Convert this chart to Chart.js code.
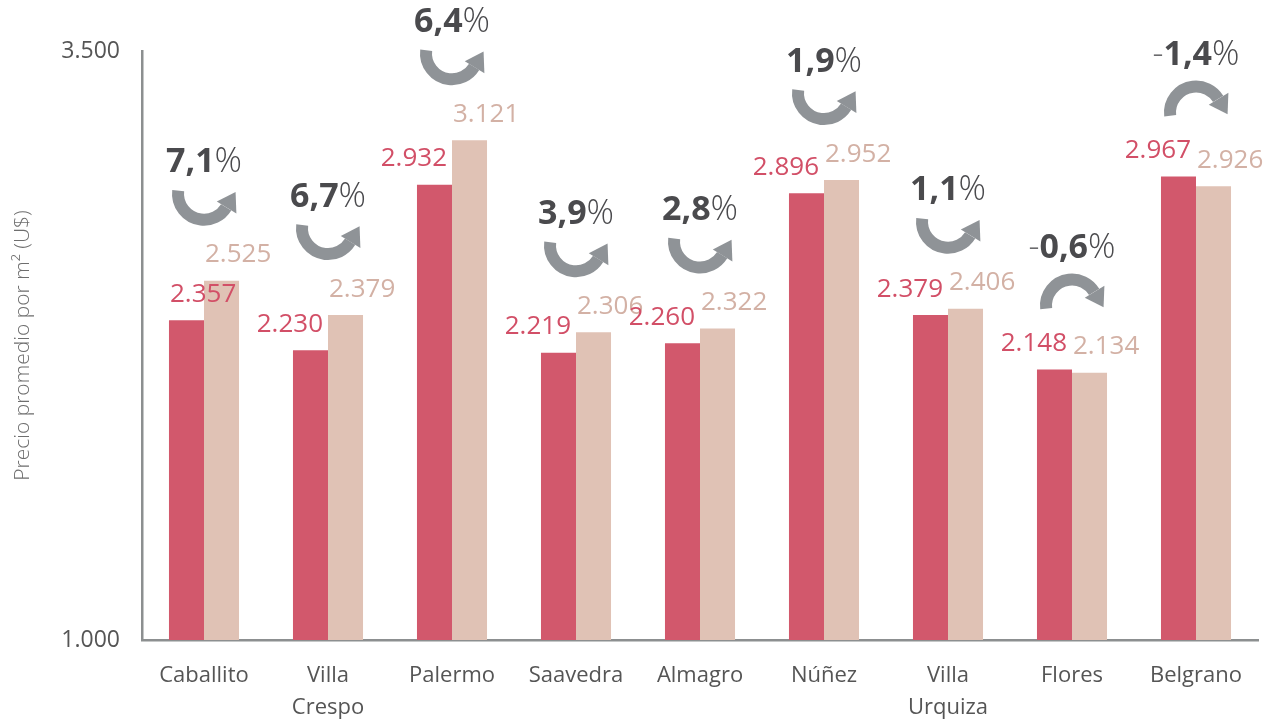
<!DOCTYPE html>
<html>
<head>
<meta charset="utf-8">
<script src="https://cdn.jsdelivr.net/npm/chart.js@4.4.1/dist/chart.umd.min.js"></script>
<style>
  html, body { margin: 0; padding: 0; background: #ffffff; }
  #wrap { width: 1285px; height: 722px; position: relative; }
</style>
</head>
<body>
<div id="wrap"><canvas id="preciosChart"></canvas></div>
<script>
const barrios = ['Caballito', ['Villa', 'Crespo'], 'Palermo', 'Saavedra', 'Almagro', 'Núñez', ['Villa', 'Urquiza'], 'Flores', 'Belgrano'];
const precioAnterior = [2357, 2230, 2932, 2219, 2260, 2896, 2379, 2148, 2967];
const precioActual = [2525, 2379, 3121, 2306, 2322, 2952, 2406, 2134, 2926];
const variacion = [7.1, 6.7, 6.4, 3.9, 2.8, 1.9, 1.1, -0.6, -1.4];
const ticksY = [1000, 3500];

const ROJO = '#d2586c';
const BEIGE = '#e0c2b5';
const FUENTE = '"Open Sans", "Noto Sans", sans-serif';

function formatMiles(n) {
    return String(n).replace(/\B(?=(\d{3})+(?!\d))/g, '.');
}

function drawArrow(ctx, cx, cy, sube) {
    const r = 26, a = 0.55;
    ctx.save();
    ctx.translate(cx, cy);
    if (!sube) ctx.scale(1, -1);
    ctx.strokeStyle = '#8f9397';
    ctx.fillStyle = '#8f9397';
    ctx.lineWidth = 12;
    ctx.beginPath();
    ctx.arc(0, 0, r, Math.PI + 0.12, a, true);
    ctx.stroke();
    // punta de flecha
    const px = r * Math.cos(a), py = r * Math.sin(a);
    const tx = Math.sin(a), ty = -Math.cos(a);
    const nx = Math.cos(a), ny = Math.sin(a);
    ctx.beginPath();
    ctx.moveTo(px + nx * 12, py + ny * 12);
    ctx.lineTo(px - nx * 11, py - ny * 11);
    ctx.lineTo(px + tx * 18, py + ty * 18);
    ctx.closePath();
    ctx.fill();
    ctx.restore();
}

const etiquetasPlugin = {
    id: 'etiquetas',
    afterDatasetsDraw(chart) {
        const ctx = chart.ctx;
        const area = chart.chartArea;
        const m0 = chart.getDatasetMeta(0);
        const m1 = chart.getDatasetMeta(1);
        ctx.save();
        ctx.textBaseline = 'middle';
        m0.data.forEach((bar0, i) => {
            const bar1 = m1.data[i];
            const centro = (bar0.x + bar1.x) / 2;
            ctx.font = '400 26px ' + FUENTE;

            // valor anterior (rojo)
            const t0 = formatMiles(precioAnterior[i]);
            const w0 = ctx.measureText(t0).width;
            let x0 = centro - 5 - w0;
            if (x0 < area.left + 28) x0 = area.left + 28;
            ctx.fillStyle = '#d24f67';
            ctx.textAlign = 'left';
            ctx.fillText(t0, x0, bar0.y - 26);

            // valor actual (beige)
            ctx.fillStyle = '#d3b1a5';
            ctx.fillText(formatMiles(precioActual[i]), centro + 1, bar1.y - 26);

            // variacion + flecha
            const v = variacion[i];
            const topMax = Math.min(bar0.y, bar1.y);
            let cy, ty;
            if (v >= 0) { cy = topMax - 87; ty = cy - 31; }
            else { cy = topMax - 64; ty = cy - 57; }
            drawArrow(ctx, centro, cy, v >= 0);

            const signo = v < 0 ? '-' : '';
            const num = Math.abs(v).toFixed(1).replace('.', ',');
            const fBold = '700 34px ' + FUENTE;
            const fLight = '300 34px ' + FUENTE;
            ctx.font = fLight;
            const ws = ctx.measureText(signo).width;
            const wp = ctx.measureText('%').width;
            ctx.font = fBold;
            const wn = ctx.measureText(num).width;
            let x = centro - (ws + wn + wp) / 2;
            ctx.font = fLight;
            ctx.fillStyle = '#6a6a6d';
            ctx.fillText(signo, x, ty);
            x += ws;
            ctx.font = fBold;
            ctx.fillStyle = '#4a4a4d';
            ctx.fillText(num, x, ty);
            x += wn;
            ctx.font = fLight;
            ctx.fillText('%', x, ty);
        });
        ctx.restore();
    }
};

const ctx = document.getElementById('preciosChart').getContext('2d');
new Chart(ctx, {
    type: 'bar',
    data: {
        labels: barrios,
        datasets: [{
            label: 'Anterior',
            data: precioAnterior,
            backgroundColor: ROJO,
            categoryPercentage: 0.565,
            barPercentage: 1
        },
        {
            label: 'Actual',
            data: precioActual,
            backgroundColor: BEIGE,
            categoryPercentage: 0.565,
            barPercentage: 1
        }]
    },
    options: {
        responsive: true,
        maintainAspectRatio: false,
        animation: false,
        layout: {
            padding: { top: 51, right: 27, left: 10, bottom: 0 }
        },
        plugins: {
            legend: { display: false },
            tooltip: { enabled: false }
        },
        scales: {
            x: {
                grid: { display: false, drawTicks: false },
                border: { display: true, color: '#8c8f90', width: 2.5 },
                ticks: {
                    color: '#555555',
                    font: { family: FUENTE, size: 22, lineHeight: 1.45 },
                    padding: 20,
                    maxRotation: 0,
                    autoSkip: false
                },
                afterFit(scale) { scale.height = 82; }
            },
            y: {
                min: 1000,
                max: 3500,
                grid: { display: false, drawTicks: false },
                border: { display: true, color: '#8c8f90', width: 2.5 },
                afterBuildTicks(scale) {
                    scale.ticks = ticksY.map(v => ({ value: v }));
                },
                ticks: {
                    color: '#555555',
                    font: { family: FUENTE, size: 23 },
                    padding: 22,
                    callback: v => formatMiles(v)
                },
                title: {
                    display: true,
                    text: 'Precio promedio por m² (U$)',
                    color: '#6e6e6e',
                    font: { family: FUENTE, size: 21, weight: 300 },
                    padding: { top: 0, bottom: 0 }
                },
                afterFit(scale) { scale.width = 132; }
            }
        }
    },
    plugins: [etiquetasPlugin]
});
</script>
</body>
</html>
